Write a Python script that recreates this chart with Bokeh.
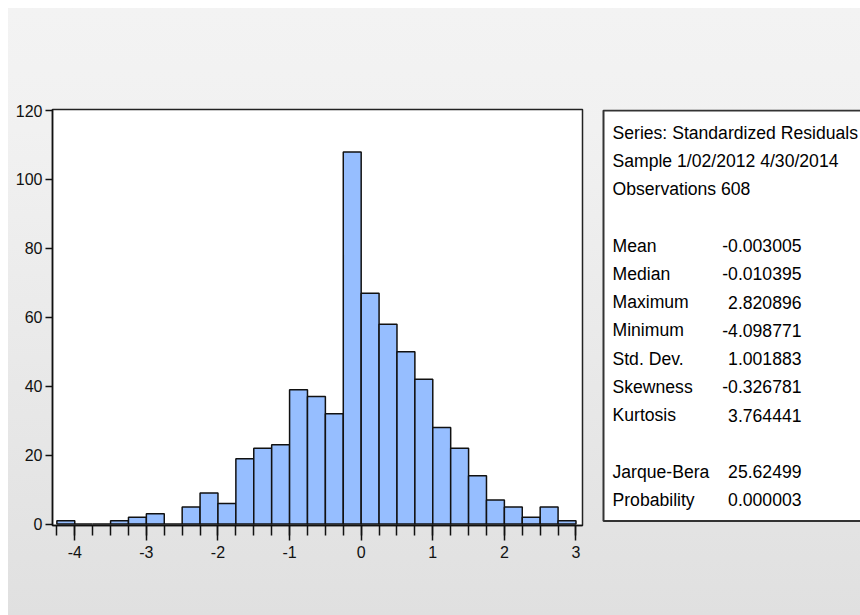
from bokeh.plotting import figure
from bokeh.models import FixedTicker, Range1d, ColumnDataSource
from bokeh.layouts import row
from bokeh.core.properties import value
from bokeh.embed import file_html
from bokeh.resources import INLINE

# ---- data ----
bin_left = [-4.25, -4.0, -3.75, -3.5, -3.25, -3.0, -2.75, -2.5, -2.25, -2.0,
            -1.75, -1.5, -1.25, -1.0, -0.75, -0.5, -0.25, 0.0, 0.25, 0.5,
            0.75, 1.0, 1.25, 1.5, 1.75, 2.0, 2.25, 2.5, 2.75]
bin_right = [-4.0, -3.75, -3.5, -3.25, -3.0, -2.75, -2.5, -2.25, -2.0, -1.75,
             -1.5, -1.25, -1.0, -0.75, -0.5, -0.25, 0.0, 0.25, 0.5, 0.75,
             1.0, 1.25, 1.5, 1.75, 2.0, 2.25, 2.5, 2.75, 3.0]
counts = [1, 0, 0, 1, 2, 3, 0, 5, 9, 6,
          19, 22, 23, 39, 37, 32, 108, 67, 58, 50,
          42, 28, 22, 14, 7, 5, 2, 5, 1]
x_ticks = [-4, -3, -2, -1, 0, 1, 2, 3]
y_ticks = [0, 20, 40, 60, 80, 100, 120]

header_lines = ["Series: Standardized Residuals",
                "Sample 1/02/2012 4/30/2014",
                "Observations 608"]
stat_names = ["Mean", "Median", "Maximum", "Minimum", "Std. Dev.", "Skewness", "Kurtosis"]
stat_values = ["-0.003005", "-0.010395", "2.820896", "-4.098771", "1.001883", "-0.326781", "3.764441"]
test_names = ["Jarque-Bera", "Probability"]
test_values = ["25.62499", "0.000003"]

FONT = "Liberation Sans"
H = 607
TOP = 101
BOTTOM = 517

# ---- histogram ----
p = figure(width=587, height=H, output_backend="svg", toolbar_location=None,
           x_range=Range1d(-4.311, 3.091), y_range=Range1d(-0.4, 120.3),
           min_border_left=44, min_border_right=13, min_border_top=TOP,
           min_border_bottom=H - BOTTOM)
p.border_fill_alpha = 0
p.background_fill_color = "white"
p.outline_line_color = "#222222"
p.outline_line_width = 1.5
p.grid.visible = False

src = ColumnDataSource(dict(left=bin_left, right=bin_right, top=counts,
                            bottom=[0] * len(counts)))
p.quad(left="left", right="right", top="top", bottom="bottom", source=src,
       fill_color="#96BEFF", line_color="#111111", line_width=1.5)

p.xaxis.ticker = FixedTicker(ticks=x_ticks, minor_ticks=bin_left + bin_right[-1:])
p.yaxis.ticker = FixedTicker(ticks=y_ticks)
p.xaxis.major_label_overrides = {t: str(t) for t in x_ticks}
for ax in (p.xaxis, p.yaxis):
    ax.axis_line_color = "#111111"
    ax.axis_line_width = 1.5
    ax.major_tick_line_color = "#111111"
    ax.major_tick_line_width = 1.5
    ax.minor_tick_line_color = "#111111"
    ax.minor_tick_line_width = 1.5
    ax.major_tick_in = 0
    ax.minor_tick_in = 0
    ax.major_label_text_font = FONT
    ax.major_label_text_font_size = "16px"
    ax.major_label_text_color = "#111111"
p.xaxis.major_tick_out = 15
p.xaxis.minor_tick_out = 10
p.xaxis.major_label_standoff = 5
p.yaxis.major_tick_out = 7
p.yaxis.minor_tick_out = 0
p.yaxis.major_label_standoff = 3

# ---- statistics panel ----
W2 = 852 - 587
q = figure(width=W2, height=H, output_backend="svg", toolbar_location=None,
           x_range=Range1d(0, W2), y_range=Range1d(BOTTOM, TOP),
           x_axis_type=None, y_axis_type=None,
           min_border_left=0, min_border_right=0,
           min_border_top=TOP, min_border_bottom=H - BOTTOM)
q.border_fill_alpha = 0
q.background_fill_alpha = 0
q.outline_line_color = None
q.grid.visible = False

q.quad(left=[8], right=[W2 + 40], top=[102], bottom=[512.5],
       fill_color="white", line_color="#333333", line_width=2)

step = 28.25
base = 124
names, name_y, vals, val_y = [], [], [], []
for i, t in enumerate(header_lines):
    names.append(t); name_y.append(base + step * i)
for i, (n, v) in enumerate(zip(stat_names, stat_values)):
    names.append(n); name_y.append(base + step * (4 + i))
    vals.append(v); val_y.append(base + step * (4 + i))
for i, (n, v) in enumerate(zip(test_names, test_values)):
    names.append(n); name_y.append(base + step * (12 + i))
    vals.append(v); val_y.append(base + step * (12 + i))

q.text(x=[17] * len(names), y=name_y, text=names, text_font=value(FONT),
       text_font_size="17.6px", text_color="#000000",
       text_align="left", text_baseline="alphabetic")
q.text(x=[206] * len(vals), y=val_y, text=vals, text_font=value(FONT),
       text_font_size="17.6px", text_color="#000000",
       text_align="right", text_baseline="alphabetic")

layout = row(p, q, spacing=0,
             styles={"margin-left": "8px", "margin-top": "8px",
                     "background": "linear-gradient(to bottom, #f3f3f3 0%, #f1f1f1 20%, #e0e0e0 100%)"})

open("out.html", "w").write(file_html(layout, INLINE))
